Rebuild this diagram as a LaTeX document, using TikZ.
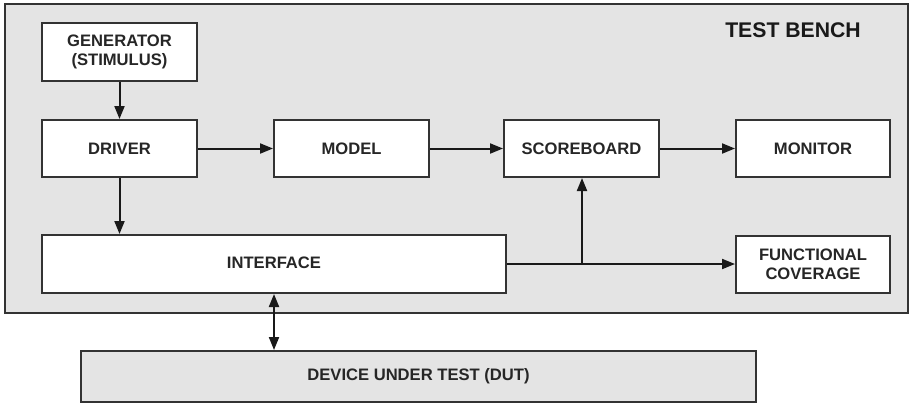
\documentclass[tikz,border=0pt]{standalone}
\usepackage{fontspec}
\setmainfont{Liberation Sans}
\usetikzlibrary{arrows.meta}
\definecolor{bggray}{HTML}{E4E4E4}
\definecolor{edge}{HTML}{333333}
\begin{document}
\begin{tikzpicture}[x=1pt,y=-1pt,
  blk/.style={draw=edge,line width=2pt,fill=white,inner sep=0pt,font=\fontsize{16.6}{19}\selectfont\bfseries,text=black!85,align=center},
  tip/.tip={Triangle[length=13pt,width=10pt]},
  conn/.style={line width=2pt,draw=black!90,-tip},
]
\useasboundingbox (0,0) rectangle (909,405);
\node[draw=edge,line width=2pt,fill=bggray,minimum width=903pt,minimum height=309pt,inner sep=0pt,anchor=north west] (tb) at (4,3) {};
\node[font=\fontsize{21.2}{23}\selectfont\bfseries,text=black!90] (tbl) at (793,30) {TEST BENCH};
\node[blk,minimum width=155pt,minimum height=58pt] (gen) at (119.5,52) {GENERATOR\\(STIMULUS)};
\node[blk,minimum width=155pt,minimum height=57pt] (drv) at (119.5,148.5) {DRIVER};
\node[blk,minimum width=155pt,minimum height=57pt] (mod) at (351.5,148.5) {MODEL};
\node[blk,minimum width=155pt,minimum height=57pt] (sb) at (581.5,148.5) {SCOREBOARD};
\node[blk,minimum width=154pt,minimum height=57pt] (mon) at (813,148.5) {MONITOR};
\node[blk,minimum width=464pt,minimum height=58pt] (if) at (274,264) {\raisebox{3pt}{INTERFACE}};
\node[blk,minimum width=154pt,minimum height=57pt] (fc) at (813,264.5) {FUNCTIONAL\\COVERAGE};
\node[blk,fill=bggray,minimum width=675pt,minimum height=51pt] (dut) at (418.5,376.5) {DEVICE UNDER TEST (DUT)};
\coordinate (br) at (582,264);
\draw[conn] (gen) -- (drv);
\draw[conn] (drv.south) -- (if.north -| drv.south);
\draw[conn] (drv) -- (mod);
\draw[conn] (mod) -- (sb);
\draw[conn] (sb) -- (mon);
\draw[line width=2pt,draw=black!90] (if.east |- br) -- (br);
\draw[conn] (br) -- (sb.south -| br);
\draw[conn] (br) -- (fc.west |- br);
\draw[conn,tip-tip] (if.south -| 274,0) -- (dut.north -| 274,0);
\end{tikzpicture}
\end{document}
